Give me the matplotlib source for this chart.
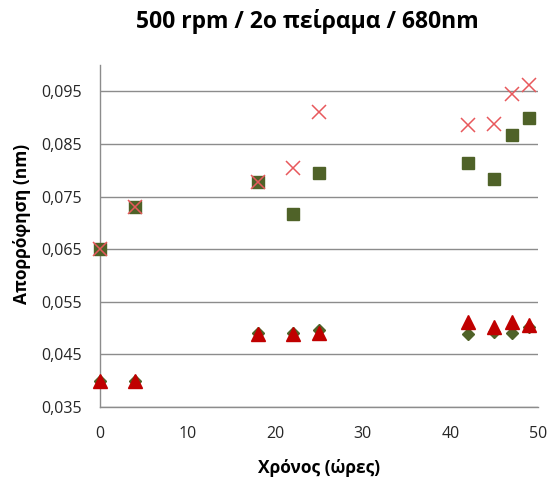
import numpy as np
import matplotlib
matplotlib.use("Agg")
import matplotlib.pyplot as plt
from matplotlib.ticker import FuncFormatter

plt.rcParams['font.family'] = ['Open Sans', 'DejaVu Sans']

# time (hours)
hours = [0, 4, 18, 22, 25, 42, 45, 47, 49]

# absorbance readings, four series
sq_vals = [0.065, 0.073, 0.0777, 0.0717, 0.0794, 0.0813, 0.0783, 0.0867, 0.0899]
x_vals = [0.065, 0.073, 0.0777, 0.0804, 0.0910, 0.0886, 0.0888, 0.0945, 0.0962]
dia_vals = [0.040, 0.040, 0.0491, 0.0490, 0.0496, 0.0489, 0.0493, 0.0491, 0.0502]
tri_vals = [0.040, 0.040, 0.0489, 0.0489, 0.0490, 0.0512, 0.0502, 0.0511, 0.0506]

yticks = [0.035, 0.045, 0.055, 0.065, 0.075, 0.085, 0.095]
xticks = [0, 10, 20, 30, 40, 50]

fig = plt.figure(figsize=(5.48, 4.79), dpi=100)
ax = fig.add_axes([100/548, 1-407/479, 438/548, 342/479])

green = '#4F6228'
ax.plot(hours, sq_vals, 's', color=green, ms=8.5, mec=green, clip_on=False, zorder=3)
ax.plot(hours, x_vals, 'x', color='#E8585C', ms=9.5, mew=1.1, clip_on=False, zorder=4)
ax.plot(hours, dia_vals, 'D', color=green, ms=6.5, clip_on=False, zorder=3)
ax.plot(hours, tri_vals, '^', color='#C00000', ms=9.5, clip_on=False, zorder=4)

ax.set_xlim(0, 50)
ax.set_ylim(0.035, 0.1)
ax.set_xticks(xticks)
ax.set_yticks(yticks)
ax.yaxis.set_major_formatter(FuncFormatter(lambda v, p: f"{v:.3f}".replace('.', ',')))

ax.grid(axis='y', color='#8C8C8C', lw=1)
ax.set_axisbelow(True)
for s in ['top', 'right']:
    ax.spines[s].set_visible(False)
for s in ['left', 'bottom']:
    ax.spines[s].set_color('#8C8C8C')
    ax.spines[s].set_linewidth(1)
ax.tick_params(axis='both', length=0, labelsize=11.5, labelcolor='#262626')
ax.tick_params(axis='y', pad=13)
ax.tick_params(axis='x', pad=14)

ax.set_xlabel('Χρόνος (ώρες)', fontsize=12.5, fontweight='bold', va='center')
ax.set_ylabel('Απορρόφηση (nm)', fontsize=12.5, fontweight='bold', va='center')
ax.xaxis.set_label_coords(0.5, -0.178)
ax.yaxis.set_label_coords(-0.178, 0.535)

fig.suptitle('500 rpm / 2ο πείραμα / 680nm', x=307/548, y=1-22/479, va='center',
             fontsize=16.5, fontweight='bold')

fig.savefig('out.png', dpi=100)
